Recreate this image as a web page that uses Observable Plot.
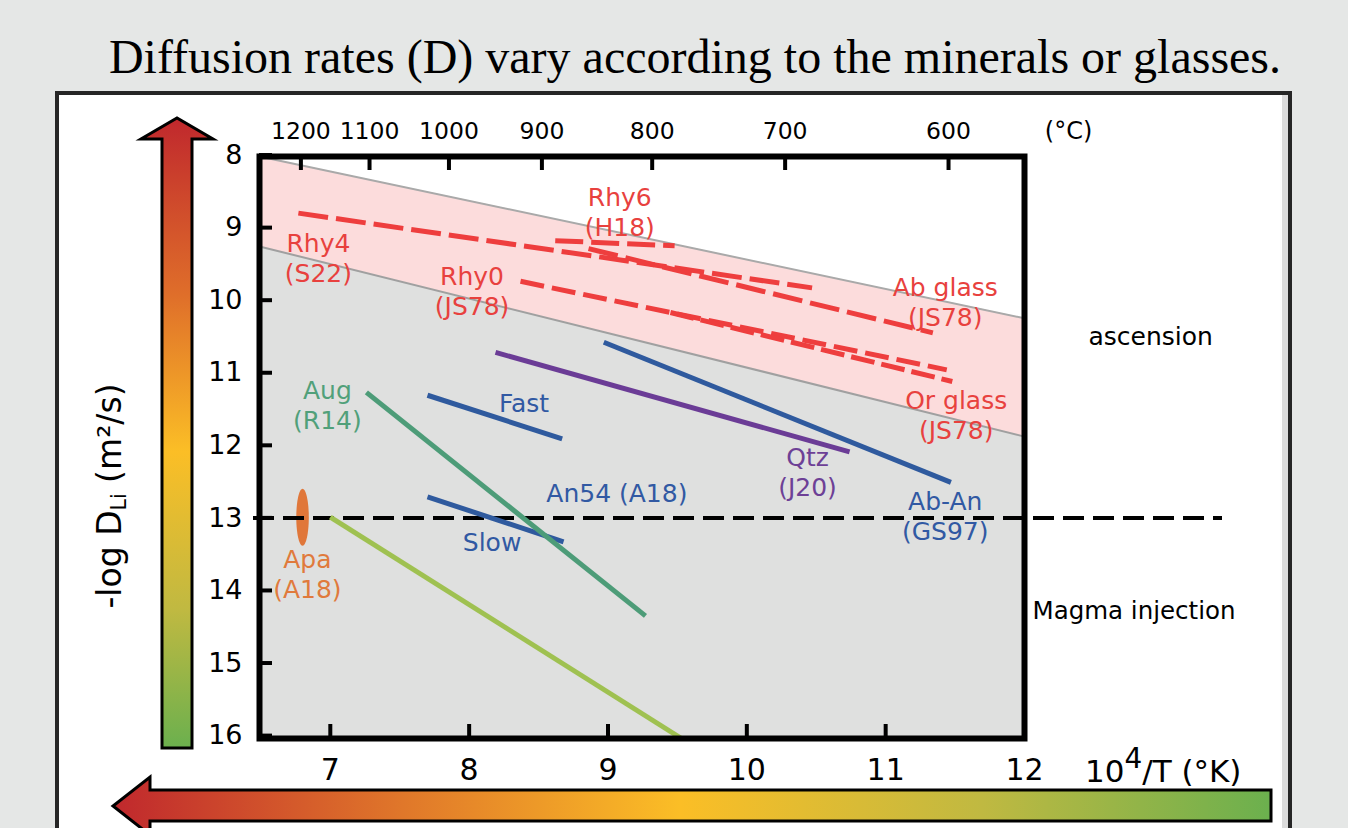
<!DOCTYPE html>
<html>
<head>
<meta charset="utf-8">
<script src="https://cdn.jsdelivr.net/npm/d3@7"></script>
<script src="https://cdn.jsdelivr.net/npm/@observablehq/plot@0.6"></script>
<style>
html, body { margin: 0; padding: 0; }
body { width: 1348px; height: 828px; overflow: hidden; background: #e5e7e6; position: relative; font-family: "DejaVu Sans", sans-serif; }
#title { position: absolute; left: 0; top: 33px; width: 1390px; text-align: center; font-family: "Liberation Serif", "Times New Roman", serif; font-size: 48px; line-height: 48px; color: #000; white-space: nowrap; }
#panel { position: absolute; left: 55px; top: 91px; width: 1237px; height: 800px; box-sizing: border-box; border: 4px solid #262626; background: #fff; box-shadow: inset -6px 0 0 #dcdcdc; }
#chart { position: absolute; left: 0; top: 97px; }
#deco { position: absolute; left: 0; top: 0; }
#ylab { position: absolute; left: 112px; top: 496px; transform: translate(-50%, -50%) rotate(-90deg); font-size: 33px; line-height: 33px; white-space: nowrap; color: #000; }
#ylab sub { font-size: 0.62em; vertical-align: baseline; position: relative; top: 0.25em; }
#xlab { position: absolute; left: 1085px; top: 756px; font-size: 31px; line-height: 31px; white-space: nowrap; color: #000; }
#xlab sup { font-size: 0.9em; vertical-align: baseline; position: relative; top: -0.5em; }
</style>
</head>
<body>
<div id="title">Diffusion rates (D) vary according to the minerals or glasses.</div>
<div id="panel"></div>
<svg id="deco" width="1348" height="828">
  <defs>
    <linearGradient id="gv" gradientUnits="userSpaceOnUse" x1="0" y1="118" x2="0" y2="748">
      <stop offset="0" stop-color="#c0282d"/>
      <stop offset="0.28" stop-color="#df6e2a"/>
      <stop offset="0.53" stop-color="#fbbe26"/>
      <stop offset="0.78" stop-color="#c0b941"/>
      <stop offset="1" stop-color="#6bb04e"/>
    </linearGradient>
    <linearGradient id="gh" gradientUnits="userSpaceOnUse" x1="113" y1="0" x2="1271" y2="0">
      <stop offset="0" stop-color="#c0282d"/>
      <stop offset="0.25" stop-color="#e0772a"/>
      <stop offset="0.49" stop-color="#fbbe26"/>
      <stop offset="0.75" stop-color="#c0b941"/>
      <stop offset="1" stop-color="#6bb04e"/>
    </linearGradient>
  </defs>
  <path d="M162,748 L162,139 L141,139 L177,118 L213,139 L192,139 L192,748 Z" fill="url(#gv)" stroke="#000" stroke-width="3" stroke-linejoin="miter"/>
  <path d="M1271,790 L150,790 L150,777 L113,806 L150,835 L150,821 L1271,821 Z" fill="url(#gh)" stroke="#000" stroke-width="3" stroke-linejoin="miter"/>
</svg>
<div id="chart"></div>
<div id="ylab">-log D<sub>Li</sub> (m²/s)</div>
<div id="xlab">10<sup>4</sup>/T (°K)</div>
<script>
// ---- Data ----
const xTicks = [7, 8, 9, 10, 11, 12];               // 10^4/T (K)
const yTicks = [8, 9, 10, 11, 12, 13, 14, 15, 16];  // -log D
const celsiusTicks = [1200, 1100, 1000, 900, 800, 700, 600];

const xDomain = [6.49, 12.0];
const yDomain = [8.02, 16.04];

// glass field (pink band) boundaries
const bandInvT = [6.49, 12.0];
const bandUpper = [8.02, 10.25];
const bandLower = [9.26, 11.88];

// Arrhenius lines
const seriesName  = ["Rhy4 (S22)", "Rhy6 (H18)", "Ab glass (JS78)", "Rhy0 (JS78)", "Or glass (JS78)", "Fast", "Slow", "Ab-An (GS97)", "Qtz (J20)", "Aug (R14)", "Unlabelled"];
const seriesGroup = ["glass", "glass", "glass", "glass", "glass", "plag", "plag", "plag", "qtz", "aug", "other"];
const invTStart = [6.77, 8.62, 8.86, 8.37, 9.45, 7.70, 7.70, 8.97, 8.19, 7.26, 7.00];
const invTEnd   = [10.47, 9.48, 11.34, 11.44, 11.48, 8.67, 8.68, 11.47, 10.74, 9.27, 9.53];
const logDStart = [8.80, 9.18, 9.29, 9.74, 10.17, 11.31, 12.71, 10.58, 10.72, 11.27, 12.99];
const logDEnd   = [9.83, 9.25, 10.45, 10.96, 11.12, 11.91, 13.33, 12.51, 12.09, 14.35, 16.04];

// apatite (A18) single estimate
const apaInvT = [6.80];
const apaLogD = [12.99];

// ascension / magma injection boundary
const boundaryLogD = [13];

// annotations
const labelText  = ["Rhy6\n(H18)", "Rhy4\n(S22)", "Rhy0\n(JS78)", "Ab glass\n(JS78)", "Or glass\n(JS78)", "Aug\n(R14)", "Fast", "An54 (A18)", "Slow", "Qtz\n(J20)", "Ab-An\n(GS97)", "Apa\n(A18)"];
const labelGroup = ["glass", "glass", "glass", "glass", "glass", "aug", "plag", "plag", "plag", "qtz", "plag", "apa"];
const labelInvT  = [9.085, 6.914, 8.021, 11.429, 11.508, 6.979, 8.395, 9.064, 8.165, 10.437, 11.429, 6.835];
const labelLogD  = [8.778, 9.405, 9.860, 10.018, 11.568, 11.43, 11.41, 12.65, 13.325, 12.354, 12.967, 13.766];

const regionText = ["ascension", "Magma injection"];
const regionLogD = [10.51, 14.29];

// ---- Styles ----
const lineColor = {glass: "#ee3e3e", plag: "#2f5a9e", qtz: "#6b3c96", aug: "#4d9c78", other: "#9fc151", apa: "#e0773a"};
const textColor = {glass: "#e8413e", plag: "#3159a3", qtz: "#6d4096", aug: "#51a07a", apa: "#e07a3c"};
const dashOf = {"Rhy4 (S22)": "30,8", "Rhy6 (H18)": "28,8", "Ab glass (JS78)": "30,8", "Rhy0 (JS78)": "24,8", "Or glass (JS78)": "24,7"};

// ---- Tables ----
const band = bandInvT.map((x, i) => ({x, upper: bandUpper[i], lower: bandLower[i]}));
const lines = seriesName.map((name, i) => ({name, group: seriesGroup[i], x1: invTStart[i], x2: invTEnd[i], y1: logDStart[i], y2: logDEnd[i]}));
const apa = apaInvT.map((x, i) => ({x, y: apaLogD[i]}));
const labels = labelText.map((text, i) => ({text, group: labelGroup[i], x: labelInvT[i], y: labelLogD[i]}));

const ellipse = {
  draw(ctx, size) {
    const r = Math.sqrt(size / Math.PI), rx = r * 0.22, ry = r, k = 0.5523;
    ctx.moveTo(0, -ry);
    ctx.bezierCurveTo(k * rx, -ry, rx, -k * ry, rx, 0);
    ctx.bezierCurveTo(rx, k * ry, k * rx, ry, 0, ry);
    ctx.bezierCurveTo(-k * rx, ry, -rx, k * ry, -rx, 0);
    ctx.bezierCurveTo(-rx, -k * ry, -k * rx, -ry, 0, -ry);
    ctx.closePath();
  }
};

const W = 1348, H = 731, mL = 259, mR = 324, mT = 59, mB = 90;
const plotW = W - mL - mR, plotH = H - mT - mB;

const chart = Plot.plot({
  width: W, height: H,
  marginLeft: mL, marginRight: mR, marginTop: mT, marginBottom: mB,
  x: {domain: xDomain, axis: null},
  y: {domain: yDomain, reverse: true, axis: null},
  style: {background: "transparent", fontFamily: "DejaVu Sans", color: "black", overflow: "visible"},
  marks: [
    Plot.areaY(band, {x: "x", y1: "lower", y2: () => yDomain[1], fill: "#dfe0df"}),
    Plot.areaY(band, {x: "x", y1: "upper", y2: "lower", fill: "#fcdcdc"}),
    Plot.line(band, {x: "x", y: "upper", stroke: "#a9a9a9", strokeWidth: 2}),
    Plot.line(band, {x: "x", y: "lower", stroke: "#a0a0a0", strokeWidth: 2}),
    Plot.dot(apa, {x: "x", y: "y", r: 28.5, symbol: ellipse, fill: lineColor.apa, stroke: "none"}),
    Plot.ruleY(boundaryLogD, {stroke: "black", strokeWidth: 4, strokeDasharray: "21,9", insetLeft: -6, insetRight: -198}),
    Plot.link(lines.filter(d => d.group !== "glass"), {x1: "x1", y1: "y1", x2: "x2", y2: "y2", stroke: d => lineColor[d.group], strokeWidth: 5, clip: true}),
    ...Object.entries(dashOf).map(([name, dash]) =>
      Plot.link(lines.filter(d => d.name === name), {x1: "x1", y1: "y1", x2: "x2", y2: "y2", stroke: lineColor.glass, strokeWidth: 5, strokeDasharray: dash})
    ),
    Plot.text(labels, {x: "x", y: "y", text: "text", fill: d => textColor[d.group], fontSize: 25, lineHeight: 1.2}),
    Plot.text(regionText.slice(0, 1), {y: regionLogD.slice(0, 1), text: d => d, frameAnchor: "right", textAnchor: "start", dx: 64, fontSize: 25, fill: "black"}),
    Plot.text(regionText.slice(1), {y: regionLogD.slice(1), text: d => d, frameAnchor: "right", textAnchor: "start", dx: 8, fontSize: 24.5, fill: "black"}),
    // inward ticks
    Plot.tickY(yTicks, {y: d => d, stroke: "black", strokeWidth: 4, insetRight: plotW - 13}),
    Plot.tickX(xTicks, {x: d => d, stroke: "black", strokeWidth: 4, insetTop: plotH - 14}),
    Plot.tickX(celsiusTicks, {x: c => 1e4 / (c + 273.15), stroke: "black", strokeWidth: 4, insetBottom: plotH - 14}),
    Plot.frame({stroke: "black", strokeWidth: 6}),
    // tick labels
    Plot.axisY(yTicks, {anchor: "left", tickSize: 0, tickPadding: 17, fontSize: 27, label: null, tickFormat: d => String(d)}),
    Plot.axisX(xTicks, {anchor: "bottom", tickSize: 0, tickPadding: 20, fontSize: 30, label: null, tickFormat: d => String(d)}),
    Plot.text(celsiusTicks, {x: c => 1e4 / (c + 273.15), text: d => String(d), frameAnchor: "top", lineAnchor: "bottom", dy: -18, fontSize: 23.5, fill: "black"}),
    Plot.text(["(°C)"], {text: d => d, frameAnchor: "top-right", lineAnchor: "bottom", textAnchor: "middle", dx: 44, dy: -18, fontSize: 24, fill: "black"})
  ]
});
document.getElementById("chart").appendChild(chart);
</script>
</body>
</html>
